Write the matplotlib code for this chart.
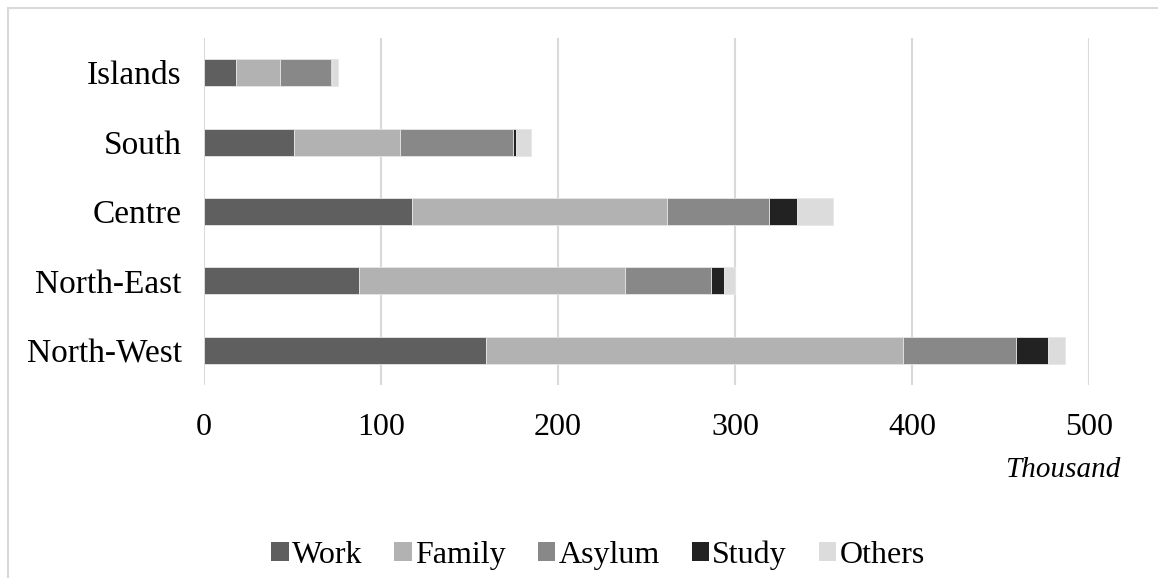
import matplotlib
matplotlib.use("Agg")
import matplotlib.pyplot as plt
from matplotlib.patches import Patch, Rectangle

# Foreign residents by reason of permit, thousands
regions = ["North-West", "North-East", "Centre", "South", "Islands"]
work = [159.6, 87.7, 117.4, 51.1, 18.3]
family = [235.5, 150.1, 144.1, 59.8, 24.9]
asylum = [63.9, 48.8, 57.9, 63.4, 28.4]
study = [17.9, 7.1, 15.6, 2.1, 0.8]
others = [9.7, 6.1, 20.1, 8.2, 3.3]

series = [("Work", work, "#5f5f5f"),
          ("Family", family, "#b2b2b2"),
          ("Asylum", asylum, "#888888"),
          ("Study", study, "#222222"),
          ("Others", others, "#dcdcdc")]
x_ticks = [0, 100, 200, 300, 400, 500]

plt.rcParams["font.family"] = ["Liberation Serif", "DejaVu Serif"]

fig = plt.figure(figsize=(11.58, 5.78), dpi=100)
# light frame around the chart area
fig.patches.append(Rectangle((8 / 1158, -0.01), 1.2, 1 - 8 / 578 + 0.01,
                             transform=fig.transFigure, fill=False,
                             edgecolor="#d9d9d9", linewidth=1.5))

ax = fig.add_axes([204 / 1158, 1 - 385 / 578, 885 / 1158, 347 / 578])
pos = range(len(regions))
left = [0.0] * len(regions)
for name, vals, color in series:
    ax.barh(pos, vals, left=left, height=0.39, color=color,
            edgecolor="#e6e6e6", linewidth=0.6, zorder=3)
    left = [l + v for l, v in zip(left, vals)]

ax.set_xlim(0, 500)
ax.set_ylim(-0.5, len(regions) - 0.5)
ax.set_xticks(x_ticks)
ax.set_xticklabels([str(t) for t in x_ticks])
ax.set_yticks(list(pos))
ax.set_yticklabels(regions)
ax.tick_params(axis="both", length=0, colors="#000000")
ax.tick_params(axis="x", labelsize=23, pad=20)
ax.tick_params(axis="y", labelsize=24, pad=16)
ax.xaxis.grid(True, color="#d9d9d9", linewidth=1.5, zorder=0)
for s in ax.spines.values():
    s.set_visible(False)

fig.text(1120 / 1158, 1 - 470 / 578, "Thousand", style="italic",
         fontsize=21, ha="right", va="center")

handles = [Patch(facecolor=c, edgecolor="none", label=n) for n, _, c in series]
fig.legend(handles=handles, loc="center", bbox_to_anchor=(598 / 1158, 1 - 555 / 578),
           ncol=5, frameon=False, fontsize=23, handlelength=0.55, handleheight=0.55,
           handletextpad=0.1, columnspacing=1.0)

fig.savefig("out.png", dpi=100)
